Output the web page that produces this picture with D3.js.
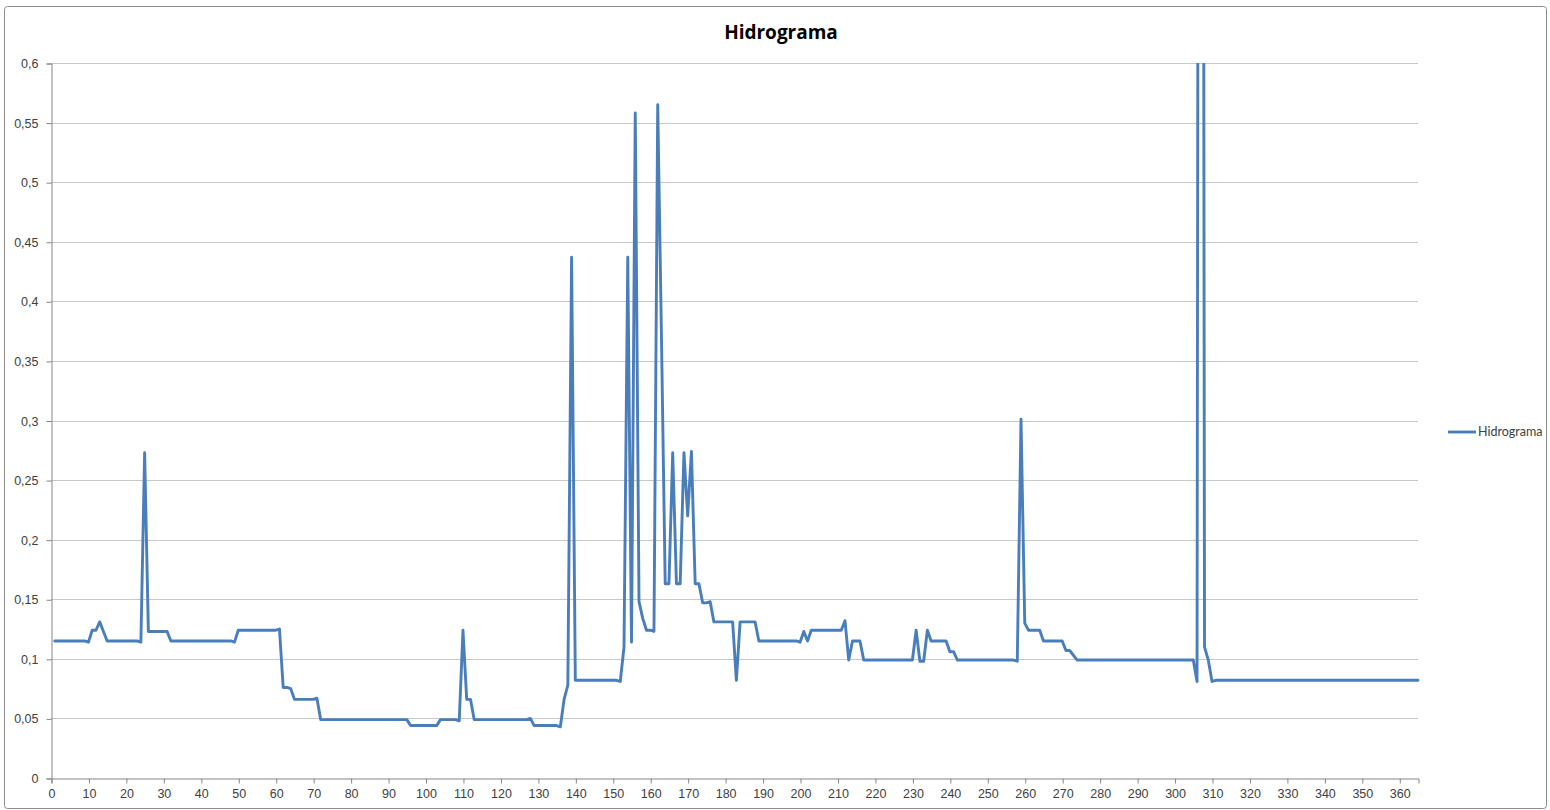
<!DOCTYPE html>
<html>
<head>
<meta charset="utf-8">
<script src="https://cdn.jsdelivr.net/npm/d3@7"></script>
<style>
  body { margin: 0; background: #fff; }
  svg { font-family: Lato, 'Open Sans', sans-serif; }
  .axis text { fill: #404040; font-size: 12.5px; }
  .axis path, .axis line { stroke: #868686; }
  .grid line { stroke: #c8c8c8; }
  .title { font-family: 'Open Sans', sans-serif; font-size: 19px; font-weight: bold; fill: #000; }
  .legend { font-size: 12.5px; fill: #404040; }
</style>
</head>
<body>
<svg id="chart" width="1550" height="810"></svg>
<script>
// day of year (breakpoints) and flow value
var days = [1, 9, 10, 11, 12, 13, 14, 15, 23, 24, 25, 26, 31, 32, 48, 49, 50, 60, 61, 62,
  63, 64, 65, 70, 71, 72, 95, 96, 103, 104, 108, 109, 110, 111, 112, 113, 127, 128, 129, 135,
  136, 137, 138, 139, 140, 151, 152, 153, 154, 155, 156, 157, 158, 159, 160, 161, 162, 163, 164, 165,
  166, 167, 168, 169, 170, 171, 172, 173, 174, 175, 176, 177, 182, 183, 184, 188, 189, 199, 200, 201,
  202, 203, 211, 212, 213, 214, 216, 217, 230, 231, 232, 233, 234, 235, 239, 240, 241, 242, 257, 258,
  259, 260, 261, 264, 265, 270, 271, 272, 274, 305, 306, 307, 308, 309, 310, 311, 365];
var flow = [0.115, 0.115, 0.114, 0.124, 0.124, 0.131, 0.123, 0.115, 0.115, 0.114, 0.273, 0.123, 0.123, 0.115, 0.115, 0.114, 0.124, 0.124, 0.125, 0.076,
  0.076, 0.075, 0.066, 0.066, 0.067, 0.049, 0.049, 0.044, 0.044, 0.049, 0.049, 0.048, 0.124, 0.066, 0.066, 0.049, 0.049, 0.05, 0.044, 0.044,
  0.043, 0.066, 0.078, 0.437, 0.082, 0.082, 0.081, 0.11, 0.437, 0.114, 0.558, 0.148, 0.134, 0.124, 0.124, 0.123, 0.565, 0.37, 0.163, 0.163,
  0.273, 0.163, 0.163, 0.273, 0.22, 0.274, 0.163, 0.163, 0.147, 0.147, 0.148, 0.131, 0.131, 0.082, 0.131, 0.131, 0.115, 0.115, 0.114, 0.123,
  0.115, 0.124, 0.124, 0.132, 0.099, 0.115, 0.115, 0.099, 0.099, 0.124, 0.098, 0.098, 0.124, 0.115, 0.115, 0.106, 0.106, 0.099, 0.099, 0.098,
  0.301, 0.13, 0.124, 0.124, 0.115, 0.115, 0.107, 0.107, 0.099, 0.099, 0.081, 2.6, 0.11, 0.099, 0.081, 0.082, 0.082];

var yTicks = [0, 0.05, 0.1, 0.15, 0.2, 0.25, 0.3, 0.35, 0.4, 0.45, 0.5, 0.55, 0.6];
var xTicks = [0, 10, 20, 30, 40, 50, 60, 70, 80, 90, 100, 110, 120, 130, 140, 150, 160, 170, 180,
  190, 200, 210, 220, 230, 240, 250, 260, 270, 280, 290, 300, 310, 320, 330, 340, 350, 360];
var seriesName = 'Hidrograma';

var plotLeft = 51, plotRight = 1418, plotTop = 63, plotBottom = 778;
var xScale = d3.scaleLinear().domain([0, 365]).range([plotLeft, plotRight]);
var yScale = d3.scaleLinear().domain([0, 0.6]).range([plotBottom, plotTop]);

var locale = d3.formatLocale({decimal: ',', thousands: '.', grouping: [3], currency: ['', '']});
var fmt = locale.format('.2~f');

var svg = d3.select('#chart');

// outer chart frame
svg.append('rect').attr('x', 4.5).attr('y', 6.5).attr('width', 1542).attr('height', 802)
  .attr('rx', 3).attr('fill', '#fff').attr('stroke', '#8c8c8c').attr('stroke-width', 1);

svg.append('text').attr('class', 'title').attr('x', 781).attr('y', 39).attr('text-anchor', 'middle').text(seriesName);

// horizontal gridlines
svg.append('g').attr('class', 'grid')
  .selectAll('line').data(yTicks.slice(1)).enter().append('line')
  .attr('x1', plotLeft).attr('x2', plotRight)
  .attr('y1', function(d) { return Math.round(yScale(d)) + 0.5; })
  .attr('y2', function(d) { return Math.round(yScale(d)) + 0.5; });

svg.append('g').attr('class', 'y axis').attr('transform', 'translate(' + (plotLeft + 0.5) + ', 0.5)')
  .call(d3.axisLeft(yScale).tickValues(yTicks).tickFormat(fmt).tickSizeOuter(0).tickSize(5).tickPadding(8));

svg.append('g').attr('class', 'x axis').attr('transform', 'translate(0.5, ' + (plotBottom + 0.5) + ')')
  .call(d3.axisBottom(xScale).tickValues(xTicks).tickFormat(d3.format('d')).tickSizeOuter(0).tickSize(5).tickPadding(6));

svg.append('clipPath').attr('id', 'plot-clip').append('rect')
  .attr('x', plotLeft).attr('y', plotTop).attr('width', plotRight - plotLeft + 4).attr('height', plotBottom - plotTop);

var line = d3.line()
  .x(function(d, i) { return xScale(days[i]); })
  .y(function(d) { return yScale(d); });

svg.append('path').datum(flow)
  .attr('clip-path', 'url(#plot-clip)')
  .attr('d', line)
  .attr('fill', 'none')
  .attr('stroke', '#4a7ebb')
  .attr('stroke-width', 2.9)
  .attr('stroke-linejoin', 'round')
  .attr('stroke-linecap', 'round');

// legend
var legend = svg.append('g').attr('transform', 'translate(1448, 432)');
legend.append('line').attr('x1', 0).attr('x2', 28).attr('y1', 0).attr('y2', 0)
  .attr('stroke', '#4a7ebb').attr('stroke-width', 2.9);
legend.append('text').attr('class', 'legend').attr('x', 30).attr('y', 4).text(seriesName);
</script>
</body>
</html>
